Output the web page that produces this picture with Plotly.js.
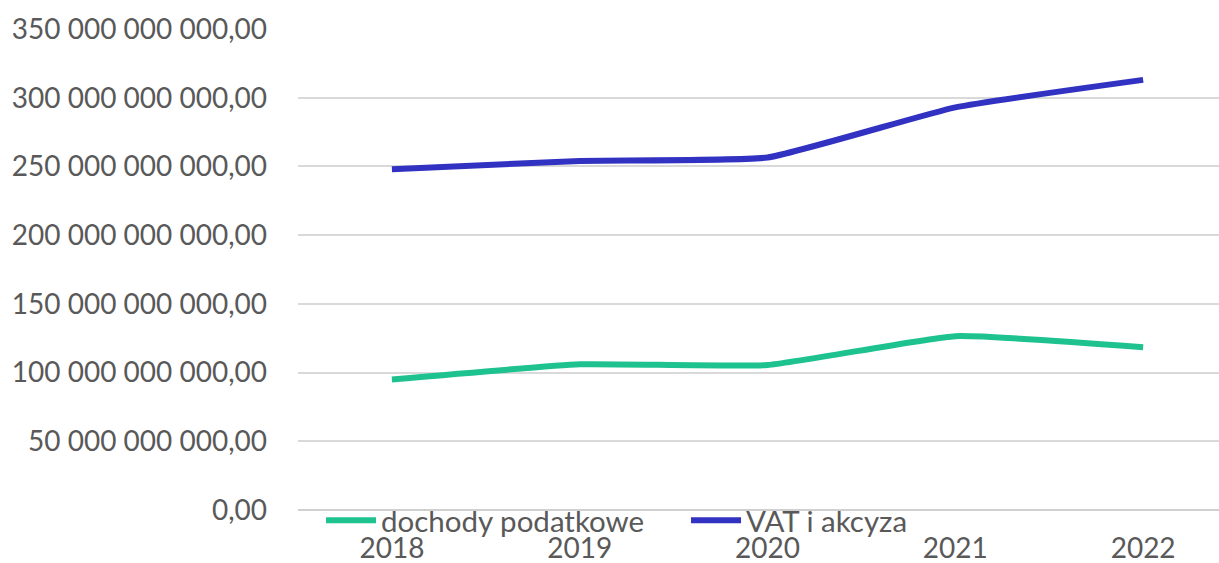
<!DOCTYPE html>
<html><head><meta charset="utf-8">
<script src="https://cdn.plot.ly/plotly-3.0.1.min.js"></script>
<style>html,body{margin:0;padding:0;background:#fff}#c{width:1219px;height:563px}</style>
</head><body><div id="c"></div>
<script>
const years = ["2018","2019","2020","2021","2022"];
const dochodyPodatkowe = [95e9, 106e9, 105.5e9, 126.5e9, 118.5e9];
const vatIAkcyza = [248e9, 254e9, 256.5e9, 293e9, 313e9];
const tickValues = [0, 50e9, 100e9, 150e9, 200e9, 250e9, 300e9, 350e9];
const tickLabels = ["0,00","50 000 000 000,00","100 000 000 000,00","150 000 000 000,00","200 000 000 000,00","250 000 000 000,00","300 000 000 000,00","350 000 000 000,00"];

const font = "Lato, 'Open Sans', sans-serif";
const fs = 28;
const traces = [
  {x: years, y: dochodyPodatkowe, name: "dochody podatkowe", type: "scatter", mode: "lines",
   line: {color: "#1ec28f", width: 6, shape: "spline", smoothing: 0.4}},
  {x: years, y: vatIAkcyza, name: "VAT i akcyza", type: "scatter", mode: "lines",
   line: {color: "#3232c2", width: 6, shape: "spline", smoothing: 0.4}}
];
const layout = {
  width: 1219, height: 563,
  margin: {l: 298, r: 0, t: 29, b: 53},
  paper_bgcolor: "#fff", plot_bgcolor: "#fff",
  font: {family: font, size: fs, color: "#595959"},
  showlegend: true,
  legend: {orientation: "h", x: 0.025, y: -0.022, xanchor: "left", yanchor: "middle",
           bgcolor: "rgba(0,0,0,0)", font: {family: font, size: 29.5, color: "#595959"},
           itemwidth: 50, traceorder: "normal", entrywidth: 300, entrywidthmode: "pixels"},
  xaxis: {type: "category", range: [-0.5, 4.404], showgrid: false, zeroline: false,
          showline: false, ticks: "", tickfont: {family: font, size: fs, color: "#595959"},
          ticklabelstandoff: 19},
  yaxis: {range: [0, 350e9], tickvals: tickValues, ticktext: tickLabels, showgrid: true,
          gridcolor: "#d9d9d9", gridwidth: 2, zeroline: true, zerolinecolor: "#d0d0d0", zerolinewidth: 2,
          showline: false, ticks: "", ticklabelstandoff: 30,
          tickfont: {family: font, size: fs, color: "#595959"}}
};
Plotly.newPlot("c", traces, layout, {displayModeBar: false, staticPlot: true});
</script></body></html>
